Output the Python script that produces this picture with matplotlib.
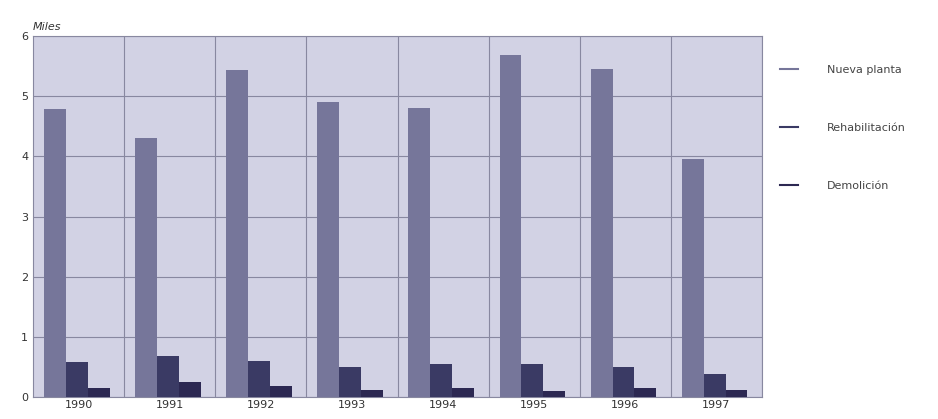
import matplotlib
matplotlib.use("Agg")
import matplotlib.pyplot as plt
import numpy as np
from matplotlib.lines import Line2D

years = ["1990", "1991", "1992", "1993", "1994", "1995", "1996", "1997"]
nueva_planta = [4.78, 4.30, 5.43, 4.90, 4.80, 5.68, 5.45, 3.95]
rehabilitacion = [0.58, 0.68, 0.60, 0.50, 0.55, 0.55, 0.50, 0.38]
demolicion = [0.15, 0.25, 0.18, 0.12, 0.15, 0.10, 0.15, 0.12]

c_nueva = "#76769a"
c_rehab = "#3a3a64"
c_demol = "#2c2852"

fig = plt.figure(figsize=(9.38, 4.19), dpi=100)
ax = fig.add_axes([33 / 938, 22 / 419, 729 / 938, 361 / 419])
ax.set_facecolor("#d2d2e4")

x = np.arange(len(years))
w = 0.24
ax.bar(x - 0.5 + 0.12 + w / 2, nueva_planta, w, color=c_nueva, zorder=3)
ax.bar(x - 0.5 + 0.12 + 1.5 * w, rehabilitacion, w, color=c_rehab, zorder=3)
ax.bar(x - 0.5 + 0.12 + 2.5 * w, demolicion, w, color=c_demol, zorder=3)

ax.set_xlim(-0.5, len(years) - 0.5)
ax.set_ylim(0, 6)
ax.set_yticks(range(7))
ax.set_xticks(x)
ax.set_xticklabels(years)
ax.set_xticks(x + 0.5, minor=True)
ax.grid(True, which="minor", axis="x", color="#8888a0", linewidth=0.8, zorder=1)
ax.grid(True, which="major", axis="y", color="#8888a0", linewidth=0.8, zorder=1)
ax.tick_params(which="both", length=0, labelsize=8, colors="#333333")
ax.tick_params(axis="x", pad=2)
for s in ax.spines.values():
    s.set_color("#8888a0")
ax.text(0.0, 1.01, "Miles", transform=ax.transAxes, fontsize=8, style="italic", color="#333333", va="bottom", ha="left")

handles = [Line2D([], [], color=c, linewidth=1.5) for c in (c_nueva, c_rehab, c_demol)]
fig.legend(handles, ["Nueva planta", "Rehabilitación", "Demolición"],
           loc="upper left", bbox_to_anchor=(770 / 938, 1 - 55 / 419), frameon=False,
           fontsize=8, labelspacing=4.3, handlelength=1.6, handletextpad=2.6,
           labelcolor="#444444")

fig.savefig("out.png", dpi=100)
